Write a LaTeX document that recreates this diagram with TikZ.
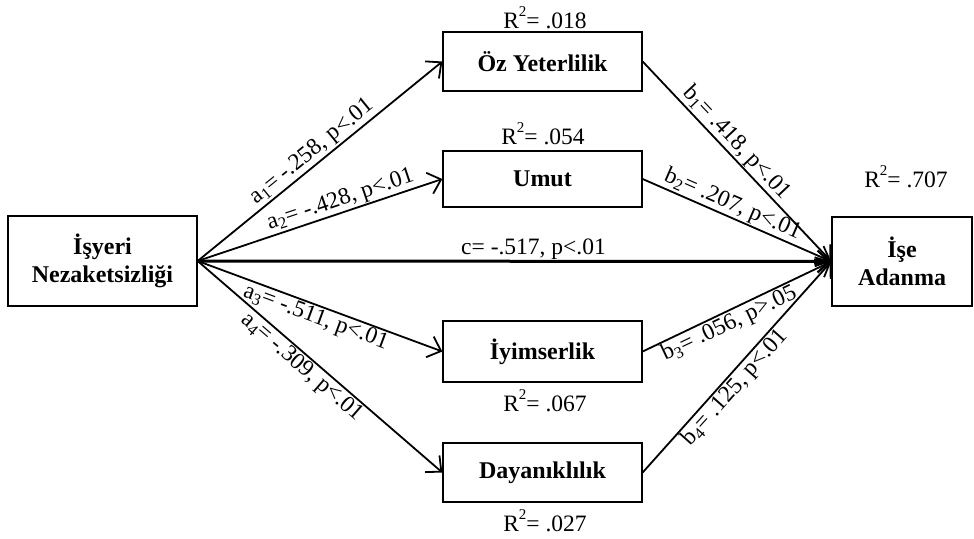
\documentclass[tikz,border=0pt]{standalone}
\usepackage{fontspec}
\setmainfont{Liberation Serif}
\usetikzlibrary{arrows.meta}
\newcommand{\rsup}{\raisebox{12pt}{\fontsize{15}{15}\selectfont 2}}
\begin{document}
\begin{tikzpicture}[x=1pt,y=-1pt,
  box/.style={draw, line width=1.3pt, minimum width=199pt, minimum height=59pt,
    font=\fontsize{24}{28}\selectfont\bfseries, align=center, inner sep=0pt},
  pth/.style={line width=1.8pt, -{Straight Barb[length=12pt,width=22pt,line width=1.8pt]}},
  thickpth/.style={line width=3pt, -{Straight Barb[length=12pt,width=22pt,line width=2.4pt]}},
  lbl/.style={font=\fontsize{23.5}{28}\selectfont, inner sep=1pt, sloped},
  rsq/.style={font=\fontsize{23.5}{28}\selectfont, inner sep=0pt}
]
\useasboundingbox (0,0) rectangle (974,538);
\node[box, minimum width=189pt, minimum height=90pt] (src) at (102.5,261) {İşyeri\\Nezaketsizliği};
\node[box, minimum width=140pt, minimum height=89pt] (dv) at (902,261.5) {İşe\\Adanma};
\node[box] (oz) at (542.5,61.5) {Öz Yeterlilik};
\node[box, minimum height=56pt] (um) at (542.5,179) {Umut};
\node[box, minimum height=61pt] (iy) at (542.5,351.5) {İyimserlik};
\node[box] (da) at (542.5,472.5) {Dayanıklılık};

\node[rsq, anchor=base] (r1) at (545,28) {R\rsup= .018};
\node[rsq, anchor=base] (r2) at (543,144) {R\rsup= .054};
\node[rsq, anchor=base] (r5) at (906,187) {R\rsup= .707};
\node[rsq, anchor=base] (r3) at (545,411) {R\rsup= .067};
\node[rsq, anchor=base] (r4) at (545,531) {R\rsup= .027};

\draw[pth] (src.east) -- (oz.west) node[lbl, pos=.5, above] {a\textsubscript{1}= -.258, p<.01};
\draw[pth] (src.east) -- (um.west) node[lbl, pos=.6, above] {a\textsubscript{2}= -.428, p<.01};
\draw[pth] (src.east) -- (iy.west) node[lbl, pos=.5, below] {a\textsubscript{3}= -.511, p<.01};
\draw[pth] (src.east) -- (da.west) node[lbl, pos=.46, below] {a\textsubscript{4}= -.309, p<.01};
\draw[thickpth] (src.east) -- (dv.west) node[lbl, pos=.53, above, inner sep=0.5pt] {c= -.517, p<.01};
\draw[pth] (oz.east) -- (dv.west) node[lbl, pos=.45, above] {b\textsubscript{1}= .418, p<.01};
\draw[pth] (um.east) -- (dv.west) node[lbl, pos=.45, above] {b\textsubscript{2}= .207, p<.01};
\draw[pth] (iy.east) -- (dv.west) node[lbl, pos=.43, below] {b\textsubscript{3}= .056, p>.05};
\draw[pth] (da.east) -- (dv.west) node[lbl, pos=.44, below] {b\textsubscript{4}= .125, p<.01};
\end{tikzpicture}
\end{document}
